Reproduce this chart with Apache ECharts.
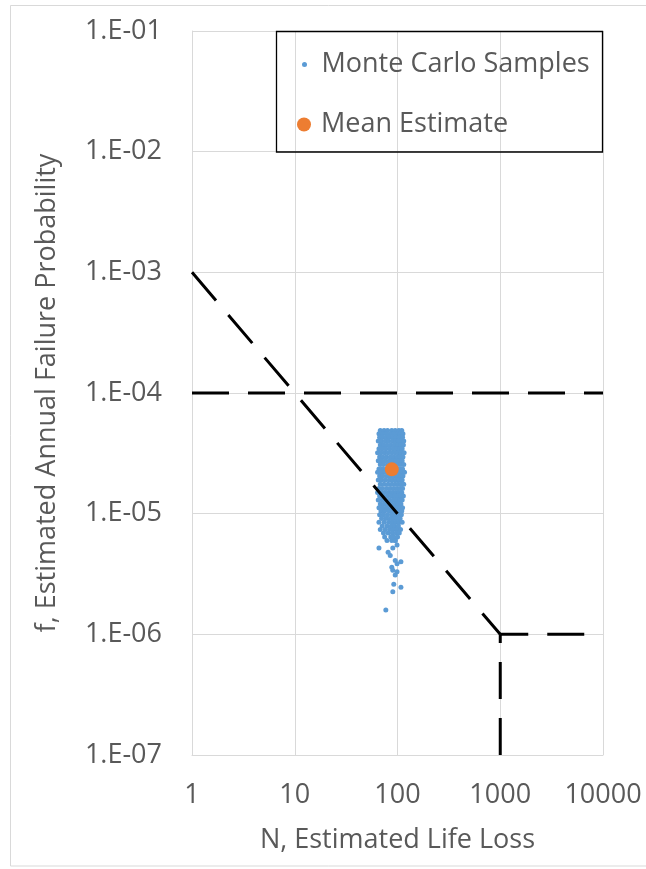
<!DOCTYPE html>
<html>
<head>
<meta charset="utf-8">
<script src="https://cdn.jsdelivr.net/npm/echarts@6/dist/echarts.min.js"></script>
<style>
html,body{margin:0;padding:0;background:#fff;}
#chart{width:646px;height:869px;}
</style>
</head>
<body>
<div id="chart"></div>
<script>
// ---- data ----
const xTicks = [1, 10, 100, 1000, 10000];
const yTicks = [1e-7, 1e-6, 1e-5, 1e-4, 1e-3, 1e-2, 1e-1];

// Monte Carlo samples [N, f]
const samplePoints = [
  [68,4.9e-5],[74,4.9e-5],[80,4.9e-5],[88,4.9e-5],[95,4.9e-5],[103,4.9e-5],[110,4.9e-5],
  [66,4.6e-5],[72,4.6e-5],[78,4.6e-5],[85,4.6e-5],[92,4.6e-5],[99,4.6e-5],[106,4.6e-5],[113,4.6e-5],
  [67,4.3e-5],[71,4.3e-5],[77,4.3e-5],[83,4.3e-5],[90,4.3e-5],[97,4.3e-5],[104,4.3e-5],[112,4.3e-5],
  [65,4.0e-5],[70,4.0e-5],[76,4.0e-5],[82,4.0e-5],[89,4.0e-5],[96,4.0e-5],[102,4.0e-5],[109,4.0e-5],[115,4.0e-5],
  [68,3.7e-5],[73,3.7e-5],[79,3.7e-5],[86,3.7e-5],[93,3.7e-5],[100,3.7e-5],[107,3.7e-5],[114,3.7e-5],
  [66,3.45e-5],[71,3.45e-5],[77,3.45e-5],[84,3.45e-5],[91,3.45e-5],[98,3.45e-5],[105,3.45e-5],[111,3.45e-5],
  [64,3.2e-5],[69,3.2e-5],[75,3.2e-5],[81,3.2e-5],[88,3.2e-5],[95,3.2e-5],[102,3.2e-5],[108,3.2e-5],[116,3.2e-5],
  [67,2.95e-5],[72,2.95e-5],[78,2.95e-5],[85,2.95e-5],[92,2.95e-5],[99,2.95e-5],[106,2.95e-5],[113,2.95e-5],
  [65,2.75e-5],[70,2.75e-5],[76,2.75e-5],[83,2.75e-5],[90,2.75e-5],[97,2.75e-5],[104,2.75e-5],[111,2.75e-5],
  [68,2.55e-5],[73,2.55e-5],[80,2.55e-5],[87,2.55e-5],[94,2.55e-5],[101,2.55e-5],[108,2.55e-5],[115,2.55e-5],
  [66,2.35e-5],[71,2.35e-5],[77,2.35e-5],[84,2.35e-5],[91,2.35e-5],[98,2.35e-5],[105,2.35e-5],[112,2.35e-5],
  [64,2.2e-5],[69,2.2e-5],[75,2.2e-5],[82,2.2e-5],[89,2.2e-5],[96,2.2e-5],[103,2.2e-5],[110,2.2e-5],[117,2.2e-5],
  [67,2.05e-5],[72,2.05e-5],[79,2.05e-5],[86,2.05e-5],[93,2.05e-5],[100,2.05e-5],[107,2.05e-5],[113,2.05e-5],
  [65,1.9e-5],[70,1.9e-5],[76,1.9e-5],[83,1.9e-5],[90,1.9e-5],[97,1.9e-5],[104,1.9e-5],[111,1.9e-5],
  [68,1.75e-5],[74,1.75e-5],[81,1.75e-5],[88,1.75e-5],[95,1.75e-5],[102,1.75e-5],[109,1.75e-5],[115,1.75e-5],
  [66,1.62e-5],[71,1.62e-5],[78,1.62e-5],[85,1.62e-5],[92,1.62e-5],[99,1.62e-5],[106,1.62e-5],[112,1.62e-5],
  [64,1.5e-5],[69,1.5e-5],[75,1.5e-5],[82,1.5e-5],[89,1.5e-5],[96,1.5e-5],[103,1.5e-5],[110,1.5e-5],
  [67,1.4e-5],[73,1.4e-5],[80,1.4e-5],[87,1.4e-5],[94,1.4e-5],[101,1.4e-5],[108,1.4e-5],[114,1.4e-5],
  [65,1.3e-5],[71,1.3e-5],[77,1.3e-5],[84,1.3e-5],[91,1.3e-5],[98,1.3e-5],[105,1.3e-5],[111,1.3e-5],
  [68,1.2e-5],[74,1.2e-5],[81,1.2e-5],[88,1.2e-5],[95,1.2e-5],[102,1.2e-5],[108,1.2e-5],
  [66,1.12e-5],[72,1.12e-5],[79,1.12e-5],[86,1.12e-5],[93,1.12e-5],[100,1.12e-5],[106,1.12e-5],[112,1.12e-5],
  [69,1.05e-5],[75,1.05e-5],[83,1.05e-5],[90,1.05e-5],[97,1.05e-5],[104,1.05e-5],[110,1.05e-5],
  [67,9.8e-6],[73,9.8e-6],[80,9.8e-6],[88,9.8e-6],[95,9.8e-6],[101,9.8e-6],[109,9.8e-6],
  [70,9.1e-6],[77,9.1e-6],[85,9.1e-6],[92,9.1e-6],[99,9.1e-6],[106,9.1e-6],
  [66,8.5e-6],[74,8.5e-6],[82,8.5e-6],[89,8.5e-6],[96,8.5e-6],[104,8.5e-6],[111,8.5e-6],
  [71,7.9e-6],[79,7.9e-6],[87,7.9e-6],[94,7.9e-6],[102,7.9e-6],
  [68,7.4e-6],[76,7.4e-6],[84,7.4e-6],[91,7.4e-6],[99,7.4e-6],[107,7.4e-6],
  [73,6.9e-6],[81,6.9e-6],[89,6.9e-6],[97,6.9e-6],[104,6.9e-6],
  [75,6.4e-6],[86,6.4e-6],[92,6.4e-6],[100,6.4e-6],
  [79,6.0e-6],[88,6.0e-6],[95,6.0e-6],
  [66,5.2e-6],[81,4.8e-6],[85,4.5e-6],[90,5.2e-6],[99,5.5e-6],[95,6.0e-6],[88,6.4e-6],
  [95,4.1e-6],[108,4.0e-6],[99,3.85e-6],[88,3.6e-6],[90,3.4e-6],[99,3.3e-6],[95,3.1e-6],
  [92,2.6e-6],[108,2.45e-6],[90,2.25e-6],[77,1.59e-6]
];

// Mean estimate [N, f]
const meanPoint = [[88, 2.33e-5]];

// Criteria (dashed) lines
const limitDiagonal = [[1, 1e-3], [1000, 1e-6]];
const limitHoriz4 = [[1, 1e-4], [10000, 1e-4]];
const limitHoriz6 = [[1000, 1e-6], [10000, 1e-6]];
const limitVert = [[1000, 1e-7], [1000, 1e-6]];

const seriesNames = ['Monte Carlo Samples', 'Mean Estimate'];
const axisTitles = ['N, Estimated Life Loss', 'f, Estimated Annual Failure Probability'];

// ---- chart ----
const FONT = 'Open Sans';
const FS = 27;
const TXT = '#595959';
const GRID = '#d9d9d9';
const chart = echarts.init(document.getElementById('chart'), null, {renderer: 'canvas'});

function dashed(data, offset) {
  return {
    type: 'line', data: data, symbol: 'none', silent: true, z: 3,
    lineStyle: {color: '#000', width: 3, type: [37, 19], dashOffset: offset || 0, cap: 'butt'}
  };
}

chart.setOption({
  animation: false,
  backgroundColor: '#fff',
  textStyle: {fontFamily: FONT},
  grid: {left: 192, right: 43, top: 31, bottom: 114, containLabel: false},
  xAxis: {
    type: 'log', logBase: 10, min: xTicks[0], max: xTicks[xTicks.length - 1],
    name: axisTitles[0], nameLocation: 'middle', nameGap: 72,
    nameTextStyle: {fontFamily: FONT, fontSize: FS, color: TXT},
    axisLine: {show: true, lineStyle: {color: GRID, width: 1}},
    axisTick: {show: false},
    axisLabel: {fontFamily: FONT, fontSize: FS, color: TXT, margin: 27,
      formatter: v => String(Math.round(v))},
    splitLine: {show: true, lineStyle: {color: GRID, width: 1}}
  },
  yAxis: {
    type: 'log', logBase: 10, min: yTicks[0], max: yTicks[yTicks.length - 1],
    name: axisTitles[1], nameLocation: 'middle', nameGap: 131,
    nameTextStyle: {fontFamily: FONT, fontSize: FS, color: TXT},
    axisLine: {show: true, lineStyle: {color: GRID, width: 1}},
    axisTick: {show: false},
    axisLabel: {fontFamily: FONT, fontSize: FS, color: TXT, margin: 30,
      formatter: v => {
        const e = Math.round(Math.log10(v));
        const a = Math.abs(e);
        return '1.E' + (e < 0 ? '-' : '+') + (a < 10 ? '0' + a : a);
      }},
    splitLine: {show: true, lineStyle: {color: GRID, width: 1}}
  },
  legend: [
    {data: [seriesNames[0]], left: 302, top: 51, padding: 0, itemWidth: 24, itemHeight: 5,
     icon: 'circle', textStyle: {fontFamily: FONT, fontSize: FS, color: TXT}},
    {data: [seriesNames[1]], left: 297, top: 111, padding: 0, itemWidth: 24, itemHeight: 14,
     icon: 'circle', textStyle: {fontFamily: FONT, fontSize: FS, color: TXT}}
  ],
  graphic: [
    {type: 'rect', z: -10, silent: true,
     shape: {x: 10.5, y: 5.5, width: 700, height: 860.5},
     style: {fill: null, stroke: GRID, lineWidth: 1}},
    {type: 'rect', z: 10, silent: true,
     shape: {x: 276.5, y: 31.5, width: 326, height: 120.5},
     style: {fill: null, stroke: '#000', lineWidth: 1.3}}
  ],
  series: [
    {name: seriesNames[0], type: 'scatter', data: samplePoints, symbol: 'circle', symbolSize: 5,
     itemStyle: {color: '#5B9BD5', opacity: 1}, z: 2},
    dashed(limitDiagonal, 0),
    dashed(limitHoriz4, 0),
    dashed(limitHoriz6, 9),
    dashed(limitVert, 0),
    {name: seriesNames[1], type: 'scatter', data: meanPoint, symbol: 'circle', symbolSize: 14,
     itemStyle: {color: '#ED7D31', opacity: 1}, z: 5}
  ]
});
</script>
</body>
</html>
